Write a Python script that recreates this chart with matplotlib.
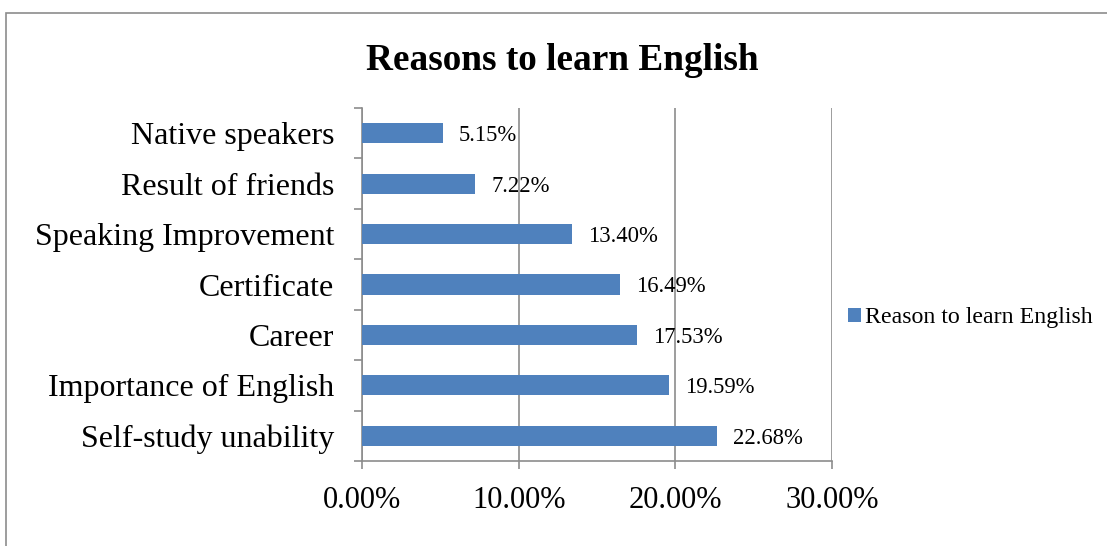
import matplotlib.pyplot as plt
from matplotlib.patches import Rectangle
from matplotlib.ticker import FuncFormatter

categories = ['Self-study unability', 'Importance of English', 'Career', 'Certificate',
              'Speaking Improvement', 'Result of friends', 'Native speakers']
values = [22.68, 19.59, 17.53, 16.49, 13.40, 7.22, 5.15]
series_name = 'Reason to learn English'
xticks = [0, 10, 20, 30]

plt.rcParams['font.family'] = ['Liberation Serif', 'DejaVu Serif']

fig = plt.figure(figsize=(11.07, 5.46), dpi=100)
ax = fig.add_axes([362 / 1107, 1 - 461 / 546, 470 / 1107, 353 / 546])

# outer chart border
fig.patches.append(Rectangle((6 / 1107, -0.1), 1.2, 1 - 13 / 546 + 0.1, transform=fig.transFigure,
                             fill=False, edgecolor='#8c8c8c', linewidth=1.2))

pos = list(range(len(categories)))
bars = ax.barh(pos, values, height=0.4, color='#4F81BD', label=series_name, zorder=3)

for p, v in zip(pos, values):
    ax.annotate(f'{v:.2f}%', (v, p), xytext=(11.5, 0), textcoords='offset points',
                va='center_baseline', ha='left', fontsize=16.3, zorder=4)

ax.set_xlim(0, 30)
ax.set_ylim(-0.5, len(categories) - 0.5)
ax.set_xticks(xticks)
ax.xaxis.set_major_formatter(FuncFormatter(lambda x, _: f'{x:.2f}%'))
ax.set_yticks(pos)
ax.set_yticklabels(categories)
ax.set_yticks([p - 0.5 for p in pos] + [len(categories) - 0.5], minor=True)

ax.tick_params(axis='x', length=6, width=1.2, color='#8c8c8c', labelsize=22, pad=12)
ax.tick_params(axis='y', which='major', length=0, labelsize=23, pad=20)
ax.tick_params(axis='y', which='minor', length=6, width=1.2, color='#8c8c8c')

ax.grid(axis='x', color='#8c8c8c', linewidth=1.2, zorder=0)
for s in ['top', 'right']:
    ax.spines[s].set_visible(False)
for s in ['left', 'bottom']:
    ax.spines[s].set_color('#8c8c8c')
    ax.spines[s].set_linewidth(1.2)

fig.text(0.508, 1 - 70 / 546, 'Reasons to learn English', ha='center', va='baseline',
         fontsize=26.8, fontweight='bold')

fig.legend(handles=[bars], labels=[series_name], loc='center left',
           bbox_to_anchor=(829 / 1107, 1 - 318 / 546), frameon=False, fontsize=17.2,
           handlelength=0.55, handleheight=0.55, handletextpad=0.15, borderpad=0.3)

fig.savefig('out.png', dpi=100)
